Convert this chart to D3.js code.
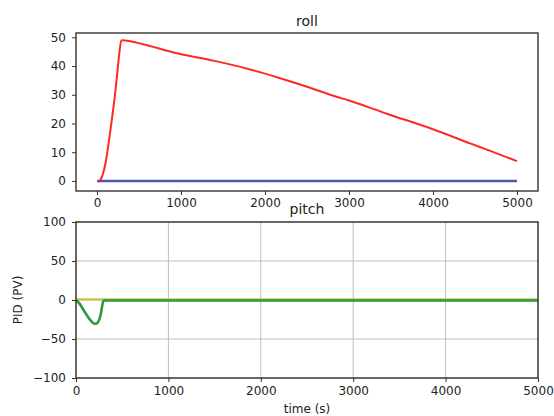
<!DOCTYPE html>
<html><head><meta charset="utf-8">
<script src="https://cdn.jsdelivr.net/npm/d3@7"></script>
<style>
body{margin:0;background:#fff;}
svg{display:block;font-family:"DejaVu Sans",sans-serif;}
</style></head>
<body><svg id="c" width="554" height="416"></svg>
<script>
// ---- data ----
const rollTicksX = [0,1000,2000,3000,4000,5000];
const rollTicksY = [0,10,20,30,40,50];
const pitchTicksX = [0,1000,2000,3000,4000,5000];
const pitchTicksY = [-100,-50,0,50,100];

const rollRed = [[20,-0.4],[60,1.5],[100,6],[140,13.5],[180,22],[220,31.5],[250,40],[270,45.5],[290,48.9],[300,49],[550,47.6],[900,44.8],[1400,41.8],[1800,39],[2200,35.6],[2500,32.8],[2850,29.3],[3000,28],[3450,23.4],[4000,18],[4450,13],[4650,10.8],[5000,6.9]];
const rollBlue = [[0,0],[5000,0]];
const pitchYellow = [[0,0.8],[5000,0.8]];
const pitchGreen = [[0,0],[40,-5],[80,-12.5],[120,-20],[160,-26.5],[200,-30.5],[230,-29.5],[255,-24],[270,-17],[283,-8],[295,-1.5],[310,-0.6],[5000,-0.6]];

// ---- drawing ----
const svg = d3.select("#c");
const L = 76, R = 538;

function styleAxis(g){
  g.select(".domain").remove();
  g.selectAll(".tick line").attr("stroke","#333").attr("stroke-width",1);
  g.selectAll(".tick text").attr("fill","#222").style("font-size","12px").style("font-family","DejaVu Sans");
}

// top panel
const t1 = 33, b1 = 191;
const x1 = d3.scaleLinear().domain([-250,5250]).range([L,R]);
const y1 = d3.scaleLinear().domain([-3.5,51.5]).range([b1,t1]);
const g1 = svg.append("g");
const line1 = d3.line().x(d=>x1(d[0])).y(d=>y1(d[1]));
const line1s = d3.line().curve(d3.curveMonotoneX).x(d=>x1(d[0])).y(d=>y1(d[1]));
g1.append("path").datum(rollBlue).attr("d",line1).attr("fill","none").attr("stroke","#4a5bb5").attr("stroke-width",2.6);
g1.append("path").datum(rollRed).attr("d",line1s).attr("fill","none").attr("stroke","#ff2a1f").attr("stroke-width",2).attr("stroke-linejoin","round");
g1.append("rect").attr("x",L).attr("y",t1).attr("width",R-L).attr("height",b1-t1).attr("fill","none").attr("stroke","#333").attr("stroke-width",1.4);
g1.append("g").attr("transform",`translate(0,${b1})`).call(d3.axisBottom(x1).tickValues(rollTicksX).tickFormat(d3.format("d")).tickSize(4).tickPadding(3)).call(styleAxis);
g1.append("g").attr("transform",`translate(${L},0)`).call(d3.axisLeft(y1).tickValues(rollTicksY).tickFormat(d3.format("d")).tickSize(4).tickPadding(6)).call(styleAxis);
g1.append("text").attr("x",(L+R)/2).attr("y",26).attr("text-anchor","middle").attr("fill","#222").style("font-size","14px").text("roll");

// bottom panel
const t2 = 222, b2 = 378;
const x2 = d3.scaleLinear().domain([0,5000]).range([L,R]);
const y2 = d3.scaleLinear().domain([-100,100]).range([b2,t2]);
const g2 = svg.append("g");
// grid
g2.append("g").selectAll("line").data(pitchTicksX).join("line")
  .attr("x1",d=>x2(d)).attr("x2",d=>x2(d)).attr("y1",t2).attr("y2",b2)
  .attr("stroke","#b8b8b8").attr("stroke-width",0.9);
g2.append("g").selectAll("line").data(pitchTicksY).join("line")
  .attr("x1",L).attr("x2",R).attr("y1",d=>y2(d)).attr("y2",d=>y2(d))
  .attr("stroke","#b8b8b8").attr("stroke-width",0.9);
const line2 = d3.line().x(d=>x2(d[0])).y(d=>y2(d[1]));
const line2s = d3.line().curve(d3.curveMonotoneX).x(d=>x2(d[0])).y(d=>y2(d[1]));
g2.append("path").datum(pitchYellow).attr("d",line2).attr("fill","none").attr("stroke","#cfc24a").attr("stroke-width",2.2);
g2.append("path").datum(pitchGreen).attr("d",line2s).attr("fill","none").attr("stroke","#2a9a3c").attr("stroke-width",2.6).attr("stroke-linejoin","round");
g2.append("rect").attr("x",L).attr("y",t2).attr("width",R-L).attr("height",b2-t2).attr("fill","none").attr("stroke","#333").attr("stroke-width",1.4);
g2.append("g").attr("transform",`translate(0,${b2})`).call(d3.axisBottom(x2).tickValues(pitchTicksX).tickFormat(d3.format("d")).tickSize(4).tickPadding(4)).call(styleAxis);
g2.append("g").attr("transform",`translate(${L},0)`).call(d3.axisLeft(y2).tickValues(pitchTicksY).tickFormat(d=>d<0?"\u2212"+Math.abs(d):String(d)).tickSize(4).tickPadding(6)).call(styleAxis);
g2.append("text").attr("x",(L+R)/2).attr("y",214).attr("text-anchor","middle").attr("fill","#222").style("font-size","14px").text("pitch");
g2.append("text").attr("x",(L+R)/2).attr("y",413).attr("text-anchor","middle").attr("fill","#222").style("font-size","12px").text("time (s)");
g2.append("text").attr("transform","translate(22,300) rotate(-90)").attr("text-anchor","middle").attr("fill","#222").style("font-size","12px").text("PID (PV)");
</script></body></html>
